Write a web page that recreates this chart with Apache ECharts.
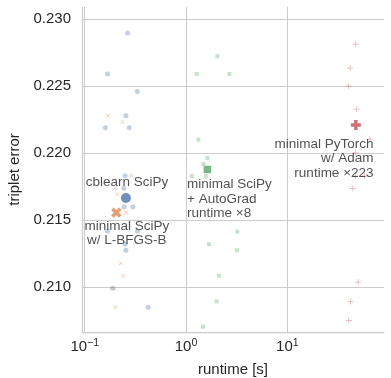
<!DOCTYPE html>
<html>
<head>
<meta charset="utf-8">
<script src="https://cdn.jsdelivr.net/npm/echarts@6/dist/echarts.min.js"></script>
<style>
html,body{margin:0;padding:0;background:#fff;}
#chart{width:391px;height:378px;}
</style>
</head>
<body>
<div id="chart"></div>
<script>
// runtime [s], triplet error
const cblearnRuns = [[0.265,0.22896],[0.168,0.2259],[0.330,0.22458],[0.255,0.22278],[0.160,0.22189],[0.275,0.22189],[0.2506,0.21831],[0.243,0.21737],[0.245,0.21597],[0.299,0.21597],[0.168,0.21416],[0.332,0.21416],[0.2506,0.21319],[0.255,0.21274],[0.188,0.2099],[0.4225,0.20849]];
const cblearnMean = [[0.255,0.21664]];
const lbfgsRuns = [[0.170,0.22278],[0.236,0.22231],[0.290,0.21831],[0.198,0.21737],[0.210,0.21692],[0.255,0.21555],[0.227,0.21177],[0.239,0.21084],[0.198,0.2099],[0.2013,0.20849]];
const lbfgsMean = [[0.205,0.21555]];
const autogradRuns = [[2.04,0.22722],[1.276,0.2259],[2.68,0.2259],[1.324,0.2210],[1.625,0.21963],[1.483,0.21918],[1.139,0.21828],[1.567,0.21828],[3.20,0.21413],[1.69,0.21319],[3.18,0.21274],[2.11,0.21084],[2.005,0.20893],[1.473,0.20704]];
const autogradMean = [[1.625,0.21877]];
const torchRuns = [[47.1,0.22811],[41.8,0.22632],[40.2,0.2250],[48.2,0.22326],[65.3,0.22102],[47.1,0.22002],[47.1,0.21828],[57.8,0.21828],[44.3,0.21735],[50.1,0.21035],[42.0,0.20892],[40.4,0.2075]];
const torchMean = [[47.5,0.22209]];
const annotations = ['cblearn SciPy', 'minimal SciPy\nw/ L-BFGS-B', 'minimal SciPy\n+ AutoGrad\nruntime ×8', 'minimal PyTorch\nw/ Adam\nruntime ×223'];
const xLabel = 'runtime [s]';
const yLabel = 'triplet error';

const FONT = 'Liberation Sans, Arial, sans-serif';
const TXT = '#262626';
const GRID = '#cccccc';
const thinPlus = 'path://M4.2,0H5.8V10H4.2Z M0,4.2H10V5.8H0Z';
const thickPlus = 'path://M3.3,0H6.7V10H3.3Z M0,3.3H10V6.7H0Z';

const chart = echarts.init(document.getElementById('chart'), null, {renderer: 'canvas'});

function lbl(text, offset, align) {
  return {show: true, formatter: text, position: 'inside', offset: offset, align: align,
    verticalAlign: 'middle', color: TXT, fontSize: 13.5, fontFamily: FONT, lineHeight: 14.5};
}

chart.setOption({
  animation: false,
  backgroundColor: '#fff',
  grid: {left: 82, right: 7, top: 7, bottom: 46, containLabel: false, outerBoundsMode: 'none'},
  xAxis: {
    type: 'log', logBase: 10, min: 0.094, max: 90.1,
    name: xLabel, nameLocation: 'middle', nameGap: 30,
    nameTextStyle: {fontSize: 15, color: TXT, fontFamily: FONT},
    axisLine: {show: true, lineStyle: {color: GRID, width: 1.25}},
    axisTick: {show: false},
    minorTick: {show: false},
    splitLine: {show: true, showMinLine: false, showMaxLine: false, lineStyle: {color: GRID, width: 1}},
    axisLabel: {
      showMinLabel: false, showMaxLabel: false, margin: 6,
      formatter: function (v) {
        const e = Math.log10(v);
        if (Math.abs(e - Math.round(e)) > 1e-6) return '';
        const r = Math.round(e);
        return '{b|10}{s|' + (r < 0 ? '\u2212' + (-r) : r) + '}';
      },
      rich: {
        b: {fontSize: 15, fontFamily: FONT, color: TXT, lineHeight: 16, padding: [6, 0, 0, 0], verticalAlign: 'bottom'},
        s: {fontSize: 10.5, fontFamily: FONT, color: TXT, lineHeight: 10, verticalAlign: 'top'}
      }
    }
  },
  yAxis: {
    type: 'value', min: 0.206642, max: 0.230895, splitNumber: 5,
    name: yLabel, nameLocation: 'middle', nameGap: 50,
    nameTextStyle: {fontSize: 15, color: TXT, fontFamily: FONT},
    axisLine: {show: true, lineStyle: {color: GRID, width: 1.25}},
    axisTick: {show: false},
    splitLine: {show: true, showMinLine: false, showMaxLine: false, lineStyle: {color: GRID, width: 1}},
    axisLabel: {
      showMinLabel: false, showMaxLabel: false, margin: 11,
      fontSize: 15, color: TXT, fontFamily: FONT,
      formatter: function (v) { return v.toFixed(3); }
    }
  },
  series: [
    {type: 'scatter', data: cblearnRuns, symbol: 'circle', symbolSize: 5, itemStyle: {color: 'rgba(76,114,176,0.42)'}},
    {type: 'scatter', data: lbfgsRuns, symbol: thinPlus, symbolRotate: 45, symbolSize: 5, itemStyle: {color: 'rgba(221,132,82,0.5)'}},
    {type: 'scatter', data: autogradRuns, symbol: 'rect', symbolSize: 4, itemStyle: {color: 'rgba(85,168,104,0.42)'}},
    {type: 'scatter', data: torchRuns, symbol: thinPlus, symbolSize: 6, itemStyle: {color: 'rgba(196,78,82,0.45)'}},
    {type: 'scatter', data: cblearnMean, symbol: 'circle', symbolSize: 10, itemStyle: {color: 'rgb(76,114,176)'}, label: lbl(annotations[0], [1, -16], 'center'), z: 5},
    {type: 'scatter', data: lbfgsMean, symbol: thickPlus, symbolRotate: 45, symbolSize: 11, itemStyle: {color: 'rgb(221,132,82)'}, label: lbl(annotations[1], [10.5, 20.5], 'center'), z: 5},
    {type: 'scatter', data: autogradMean, symbol: 'rect', symbolSize: 7.5, itemStyle: {color: 'rgb(85,168,104)'}, label: lbl(annotations[2], [-20.3, 29.5], 'left'), z: 5},
    {type: 'scatter', data: torchMean, symbol: thickPlus, symbolSize: 10, itemStyle: {color: 'rgb(196,78,82)'}, label: lbl(annotations[3], [17.7, 33.3], 'right'), z: 5}
  ]
});
</script>
</body>
</html>
